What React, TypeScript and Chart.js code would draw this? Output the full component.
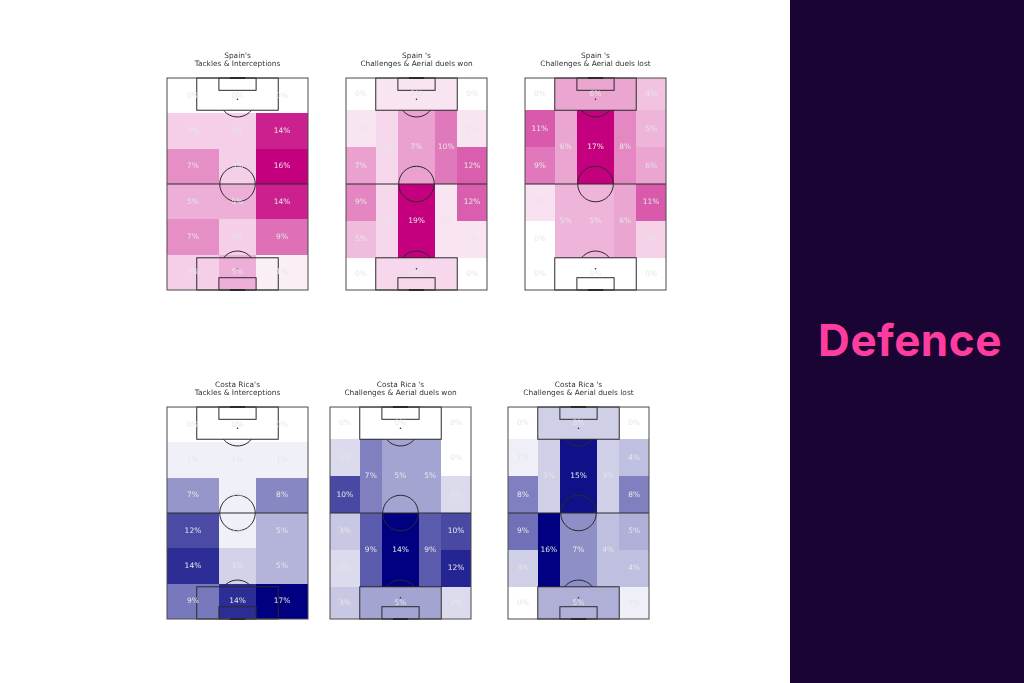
import React, { useEffect, useRef } from "react";
import { Chart, registerables } from "chart.js";

Chart.register(...registerables);

// ---- Zone definitions (pitch coords: x across 0-100, y along 0-100, 100 = top) ----
const gridXEdges = [0, 36.8, 63.2, 100];
const gridYEdges = [100, 83.33, 66.67, 50, 33.33, 16.67, 0];

const positionalZones: [number, number, number, number][] = [
  [0, 21.1, 84.8, 100], [21.1, 78.9, 84.8, 100], [78.9, 100, 84.8, 100],
  [0, 21.1, 67.4, 84.8], [78.9, 100, 67.4, 84.8],
  [0, 21.1, 50, 67.4], [78.9, 100, 50, 67.4],
  [21.1, 36.8, 50, 84.8], [36.8, 63.2, 50, 84.8], [63.2, 78.9, 50, 84.8],
  [0, 21.1, 32.6, 50], [78.9, 100, 32.6, 50],
  [0, 21.1, 15.2, 32.6], [78.9, 100, 15.2, 32.6],
  [21.1, 36.8, 15.2, 50], [36.8, 63.2, 15.2, 50], [63.2, 78.9, 15.2, 50],
  [0, 21.1, 0, 15.2], [21.1, 78.9, 0, 15.2], [78.9, 100, 0, 15.2],
];

// ---- Values (percent) ----
// grid: 6 rows (top to bottom) x 3 columns (left to right)
const spainTackles = [0, 0, 0, 3, 3, 14, 7, 3, 16, 5, 5, 14, 7, 3, 9, 3, 5, 1];
const costaTackles = [0, 0, 0, 1, 1, 1, 7, 1, 8, 12, 1, 5, 14, 3, 5, 9, 14, 17];
// positional: same order as positionalZones
const spainWon = [0, 2, 0, 2, 2, 7, 12, 3, 7, 10, 9, 12, 5, 2, 3, 19, 2, 0, 3, 0];
const spainLost = [0, 6, 4, 11, 5, 9, 6, 6, 17, 8, 2, 11, 0, 3, 5, 5, 6, 0, 0, 0];
const costaWon = [0, 0, 0, 2, 0, 10, 2, 7, 5, 5, 3, 10, 2, 12, 9, 14, 9, 3, 5, 2];
const costaLost = [0, 3, 0, 1, 4, 8, 8, 3, 15, 3, 9, 5, 3, 4, 16, 7, 4, 0, 5, 1];

const titles: string[][] = [
  ["Spain's", "Tackles & Interceptions"],
  ["Spain 's", "Challenges & Aerial duels won"],
  ["Spain 's", "Challenges & Aerial duels lost"],
  ["Costa Rica's", "Tackles & Interceptions"],
  ["Costa Rica 's", "Challenges & Aerial duels won"],
  ["Costa Rica 's", "Challenges & Aerial duels lost"],
];

function gridZones(): [number, number, number, number][] {
  const out: [number, number, number, number][] = [];
  for (let r = 0; r < gridYEdges.length - 1; r++) {
    for (let c = 0; c < gridXEdges.length - 1; c++) {
      out.push([gridXEdges[c], gridXEdges[c + 1], gridYEdges[r + 1], gridYEdges[r]]);
    }
  }
  return out;
}

const SPAIN_RGB = [197, 0, 126];
const COSTA_RGB = [0, 0, 128];

const PW = 141;
const PH = 212;
const PAD_X = 15;
const PAD_TOP = 30;
const PAD_BOTTOM = 4;

type PanelDef = {
  title: string[];
  zones: [number, number, number, number][];
  values: number[];
  rgb: number[];
  left: number;
  top: number;
};

function makePitchPlugin(rgb: number[], max: number) {
  return {
    id: "pitchPlugin",
    beforeDatasetsDraw(chart: any) {
      const ctx = chart.ctx as CanvasRenderingContext2D;
      const xs = chart.scales.x;
      const ys = chart.scales.y;
      const raw = chart.data.datasets[0].data as any[];
      ctx.save();
      raw.forEach((d: any) => {
        const t = max > 0 ? d.v / max : 0;
        const r = Math.round(255 + (rgb[0] - 255) * t);
        const g = Math.round(255 + (rgb[1] - 255) * t);
        const b = Math.round(255 + (rgb[2] - 255) * t);
        ctx.fillStyle = `rgb(${r},${g},${b})`;
        const px0 = Math.round(xs.getPixelForValue(d.x0));
        const px1 = Math.round(xs.getPixelForValue(d.x1));
        const py0 = Math.round(ys.getPixelForValue(d.y1));
        const py1 = Math.round(ys.getPixelForValue(d.y0));
        ctx.fillRect(px0, py0, px1 - px0, py1 - py0);
      });
      ctx.restore();
    },
    afterDatasetsDraw(chart: any) {
      const ctx = chart.ctx as CanvasRenderingContext2D;
      const xs = chart.scales.x;
      const ys = chart.scales.y;
      const X = (v: number) => xs.getPixelForValue(v);
      const Y = (v: number) => ys.getPixelForValue(v);
      ctx.save();
      ctx.strokeStyle = "#2a2a2a";
      ctx.lineWidth = 1;
      const rect = (x0: number, x1: number, y0: number, y1: number) => {
        ctx.strokeRect(X(x0), Y(y1), X(x1) - X(x0), Y(y0) - Y(y1));
      };
      rect(21.1, 78.9, 84.8, 100);
      rect(21.1, 78.9, 0, 15.2);
      rect(36.8, 63.2, 94.2, 100);
      rect(36.8, 63.2, 0, 5.8);
      ctx.beginPath();
      ctx.moveTo(X(0), Y(50));
      ctx.lineTo(X(100), Y(50));
      ctx.stroke();
      const rad = X(62.6) - X(50);
      ctx.beginPath();
      ctx.arc(X(50), Y(50), rad, 0, Math.PI * 2);
      ctx.stroke();
      const dyTop = Y(84.8) - Y(90);
      const a = Math.acos(Math.min(1, dyTop / rad));
      ctx.beginPath();
      ctx.arc(X(50), Y(90), rad, Math.PI / 2 - a, Math.PI / 2 + a);
      ctx.stroke();
      const dyBot = Y(10) - Y(15.2);
      const a2 = Math.acos(Math.min(1, dyBot / rad));
      ctx.beginPath();
      ctx.arc(X(50), Y(10), rad, -Math.PI / 2 - a2, -Math.PI / 2 + a2);
      ctx.stroke();
      ctx.fillStyle = "#2a2a2a";
      [90, 10].forEach((s) => {
        ctx.beginPath();
        ctx.arc(X(50), Y(s), 0.8, 0, Math.PI * 2);
        ctx.fill();
      });
      ctx.strokeStyle = "#4a4a4a";
      rect(0, 100, 0, 100);
      ctx.strokeStyle = "#2a2a2a";
      ctx.lineWidth = 2;
      ctx.beginPath();
      ctx.moveTo(X(44.6), Y(100));
      ctx.lineTo(X(55.4), Y(100));
      ctx.moveTo(X(44.6), Y(0));
      ctx.lineTo(X(55.4), Y(0));
      ctx.stroke();
      const raw = chart.data.datasets[0].data as any[];
      ctx.fillStyle = "#e6e6e6";
      ctx.font = "7.5px 'DejaVu Sans'";
      ctx.textAlign = "center";
      ctx.textBaseline = "middle";
      raw.forEach((d: any) => {
        ctx.fillText(`${d.v}%`, X(d.x), Y(d.y));
      });
      ctx.restore();
    },
  };
}

function PitchChart({ def }: { def: PanelDef }) {
  const ref = useRef<HTMLCanvasElement>(null);
  useEffect(() => {
    if (!ref.current) return;
    const max = Math.max(...def.values);
    const data = def.zones.map((z, i) => ({
      x: (z[0] + z[1]) / 2,
      y: (z[2] + z[3]) / 2,
      x0: z[0],
      x1: z[1],
      y0: z[2],
      y1: z[3],
      v: def.values[i],
    }));
    const chart = new Chart(ref.current, {
      type: "scatter",
      data: { datasets: [{ data, pointRadius: 0, pointHoverRadius: 0 } as any] },
      options: {
        animation: false,
        responsive: false,
        devicePixelRatio: 1,
        events: [],
        layout: { padding: { left: PAD_X, right: PAD_X, top: 3.5, bottom: PAD_BOTTOM } },
        scales: {
          x: { type: "linear", min: 0, max: 100, display: false },
          y: { type: "linear", min: 0, max: 100, display: false },
        },
        plugins: {
          legend: { display: false },
          tooltip: { enabled: false },
          title: {
            display: true,
            text: def.title,
            color: "#333333",
            font: { family: "'DejaVu Sans'", size: 7.4, lineHeight: 1.13, weight: "normal" },
            padding: { top: 0, bottom: 9.8 },
          },
        },
      } as any,
      plugins: [makePitchPlugin(def.rgb, max)],
    });
    return () => chart.destroy();
  }, [def]);
  return (
    <canvas
      ref={ref}
      width={PW + PAD_X * 2}
      height={PH + PAD_TOP + PAD_BOTTOM}
      style={{ position: "absolute", left: def.left - PAD_X, top: def.top - PAD_TOP }}
    />
  );
}

const panelOrigins = [
  [167, 78], [346, 78], [525, 78],
  [167, 407], [330, 407], [508, 407],
];

const panels: PanelDef[] = [
  { title: titles[0], zones: gridZones(), values: spainTackles, rgb: SPAIN_RGB, left: panelOrigins[0][0], top: panelOrigins[0][1] },
  { title: titles[1], zones: positionalZones, values: spainWon, rgb: SPAIN_RGB, left: panelOrigins[1][0], top: panelOrigins[1][1] },
  { title: titles[2], zones: positionalZones, values: spainLost, rgb: SPAIN_RGB, left: panelOrigins[2][0], top: panelOrigins[2][1] },
  { title: titles[3], zones: gridZones(), values: costaTackles, rgb: COSTA_RGB, left: panelOrigins[3][0], top: panelOrigins[3][1] },
  { title: titles[4], zones: positionalZones, values: costaWon, rgb: COSTA_RGB, left: panelOrigins[4][0], top: panelOrigins[4][1] },
  { title: titles[5], zones: positionalZones, values: costaLost, rgb: COSTA_RGB, left: panelOrigins[5][0], top: panelOrigins[5][1] },
];

export default function App() {
  return (
    <div
      style={{
        position: "fixed",
        left: 0,
        top: 0,
        width: 1024,
        height: 683,
        background: "#ffffff",
        overflow: "hidden",
      }}
    >
      {panels.map((p, i) => (
        <PitchChart key={i} def={p} />
      ))}
      <div
        style={{
          position: "absolute",
          left: 790,
          top: 0,
          width: 234,
          height: 683,
          background: "#1a0434",
        }}
      >
        <div
          style={{
            position: "absolute",
            left: 0,
            width: 234,
            top: 312,
            textAlign: "center",
            color: "#ff3d9e",
            fontFamily: "Inter, 'Open Sans', sans-serif",
            fontWeight: 700,
            fontSize: 44,
            lineHeight: "56px",
            letterSpacing: 0.5,
            paddingLeft: 6,
            boxSizing: "border-box",
          }}
        >
          Defence
        </div>
      </div>
    </div>
  );
}
